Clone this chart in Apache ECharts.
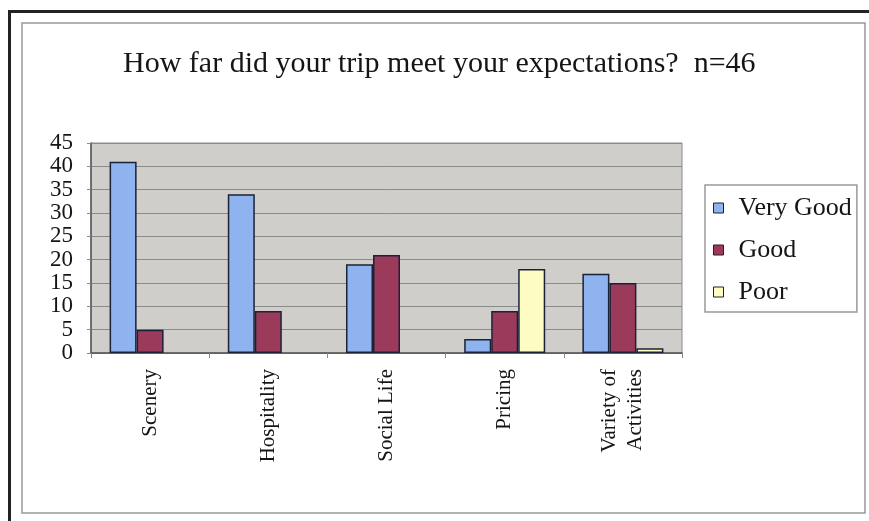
<!DOCTYPE html>
<html>
<head>
<meta charset="utf-8">
<script src="https://cdn.jsdelivr.net/npm/echarts@6/dist/echarts.min.js"></script>
<style>
  html, body { margin: 0; padding: 0; background: #fff; }
  #chart { width: 869px; height: 521px; }
</style>
</head>
<body>
<div id="chart"></div>
<script>
// categories and values
const categories = ['Scenery', 'Hospitality', 'Social Life', 'Pricing', 'Variety of\nActivities']
const veryGood = [41, 34, 19, 3, 17]
const good = [5, 9, 21, 9, 15]
const poor = [0, 0, 0, 18, 1]
const yTicks = [0, 5, 10, 15, 20, 25, 30, 35, 40, 45]

const serif = '"Liberation Serif", "DejaVu Serif", serif'
// zero bars are not drawn in the original
const hideZero = arr => arr.map(v => (v === 0 ? '-' : v))

const myChart = echarts.init(document.getElementById('chart'))

const barStyle = color => ({
  color: color,
  borderColor: '#1c2236',
  borderWidth: 1.5
})

const option = {
  backgroundColor: '#fff',
  animation: false,
  title: {
    text: 'How far did your trip meet your expectations?  n=46',
    left: 118,
    top: 44,
    padding: 5,
    textStyle: {
      fontFamily: serif,
      fontSize: 30,
      fontWeight: 'normal',
      color: '#151515'
    }
  },
  grid: {
    left: 91,
    right: 187,
    top: 143,
    bottom: 168,
    show: true,
    backgroundColor: '#cfceca',
    borderColor: '#8c8c8c',
    borderWidth: 1
  },
  legend: {
    orient: 'vertical',
    left: 705,
    top: 185,
    padding: [10, 5, 7, 8],
    itemGap: 16,
    itemWidth: 10,
    itemHeight: 10,
    icon: 'rect',
    borderColor: '#9a9a9a',
    borderWidth: 1.5,
    itemStyle: { borderColor: '#222', borderWidth: 1 },
    textStyle: { fontFamily: serif, fontSize: 26, color: '#151515', padding: [0, 0, 0, 10] },
    data: ['Very Good', 'Good', 'Poor']
  },
  xAxis: {
    type: 'category',
    data: categories,
    axisLine: { lineStyle: { color: '#555', width: 1.5 } },
    axisTick: { show: true, length: 5, lineStyle: { color: '#888' } },
    axisLabel: {
      rotate: 90,
      margin: 16,
      fontFamily: serif,
      fontSize: 21,
      lineHeight: 26,
      color: '#151515'
    }
  },
  yAxis: {
    type: 'value',
    min: 0,
    max: 45,
    interval: 5,
    axisLine: { show: true, lineStyle: { color: '#555', width: 1.5 } },
    axisTick: { show: true, length: 4, lineStyle: { color: '#888' } },
    splitLine: { show: true, lineStyle: { color: '#8a8a8a', width: 1 } },
    axisLabel: {
      margin: 18,
      fontFamily: serif,
      fontSize: 23,
      color: '#151515',
      formatter: v => (yTicks.includes(v) ? String(v) : '')
    }
  },
  series: [
    {
      name: 'Very Good',
      type: 'bar',
      barWidth: 27,
      barGap: '0%',
      itemStyle: barStyle('#8fb3ee'),
      data: hideZero(veryGood)
    },
    {
      name: 'Good',
      type: 'bar',
      barWidth: 27,
      barGap: '0%',
      itemStyle: barStyle('#9c3a5c'),
      data: hideZero(good)
    },
    {
      name: 'Poor',
      type: 'bar',
      barWidth: 27,
      barGap: '0%',
      itemStyle: barStyle('#fdfcc2'),
      data: hideZero(poor)
    }
  ],
  graphic: [
    // outer dark frame (left and top)
    { type: 'rect', shape: { x: 8, y: 10, width: 3, height: 511 }, style: { fill: '#222' } },
    { type: 'rect', shape: { x: 8, y: 10, width: 861, height: 3 }, style: { fill: '#222' } },
    // inner grey frame
    {
      type: 'rect',
      shape: { x: 22, y: 23, width: 843, height: 490 },
      style: { fill: 'none', stroke: '#999', lineWidth: 1.5 },
      z: -1
    }
  ]
}

myChart.setOption(option)
</script>
</body>
</html>
